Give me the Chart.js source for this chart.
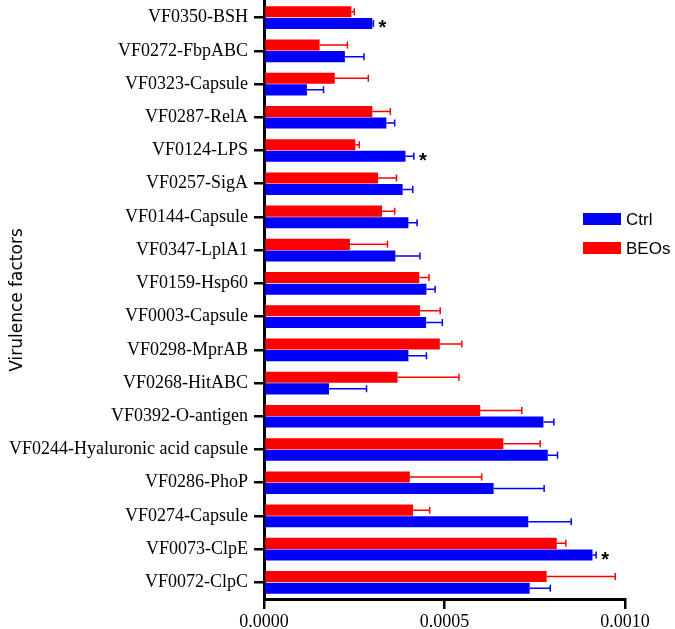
<!DOCTYPE html>
<html>
<head>
<meta charset="utf-8">
<script src="https://cdn.jsdelivr.net/npm/chart.js@4.4.1/dist/chart.umd.min.js"></script>
<style>
  html, body { margin: 0; padding: 0; background: #fff; }
  #wrap { width: 675px; height: 629px; position: relative; }
</style>
</head>
<body>
<div id="wrap"><canvas id="vf-chart"></canvas></div>
<script>
const categories = [
  'VF0350-BSH', 'VF0272-FbpABC', 'VF0323-Capsule', 'VF0287-RelA', 'VF0124-LPS',
  'VF0257-SigA', 'VF0144-Capsule', 'VF0347-LplA1', 'VF0159-Hsp60', 'VF0003-Capsule',
  'VF0298-MprAB', 'VF0268-HitABC', 'VF0392-O-antigen', 'VF0244-Hyaluronic acid capsule',
  'VF0286-PhoP', 'VF0274-Capsule', 'VF0073-ClpE', 'VF0072-ClpC'
];

const ctrlValues = [
  0.000300, 0.000224, 0.000119, 0.000339, 0.000392, 0.000384, 0.000400, 0.000364, 0.000450,
  0.000449, 0.000400, 0.000180, 0.000774, 0.000786, 0.000636, 0.000732, 0.000910, 0.000736
];
const ctrlErrors = [
  0.000003, 0.000053, 0.000046, 0.000023, 0.000023, 0.000028, 0.000024, 0.000068, 0.000024,
  0.000045, 0.000050, 0.000104, 0.000029, 0.000027, 0.000140, 0.000119, 0.000010, 0.000057
];

const beosValues = [
  0.000242, 0.000154, 0.000196, 0.000300, 0.000253, 0.000316, 0.000327, 0.000238, 0.000430,
  0.000432, 0.000487, 0.000370, 0.000599, 0.000663, 0.000404, 0.000413, 0.000811, 0.000783
];
const beosErrors = [
  0.000008, 0.000077, 0.000093, 0.000050, 0.000011, 0.000051, 0.000035, 0.000104, 0.000027,
  0.000056, 0.000061, 0.000170, 0.000115, 0.000102, 0.000199, 0.000046, 0.000025, 0.000190
];

// categories where Ctrl is marked significant (*)
const significant = ['VF0350-BSH', 'VF0124-LPS', 'VF0073-ClpE'];

const xTicks = [0, 0.0005, 0.001];

const RED = '#ff0000';
const BLUE = '#0000ff';

const errorBars = {
  id: 'errorBars',
  afterDatasetsDraw(chart) {
    const ctx = chart.ctx;
    const x = chart.scales.x;
    chart.data.datasets.forEach((ds, di) => {
      const meta = chart.getDatasetMeta(di);
      meta.data.forEach((bar, i) => {
        const x0 = x.getPixelForValue(ds.data[i]);
        const x1 = x.getPixelForValue(ds.data[i] + ds.errors[i]);
        const y = bar.y;
        ctx.save();
        ctx.strokeStyle = ds.backgroundColor;
        ctx.lineWidth = 1.5;
        ctx.beginPath();
        ctx.moveTo(x0, y);
        ctx.lineTo(x1, y);
        ctx.moveTo(x1, y - 3.5);
        ctx.lineTo(x1, y + 3.5);
        ctx.stroke();
        ctx.restore();

        if (ds.label === 'Ctrl' && significant.includes(categories[i])) {
          ctx.save();
          ctx.fillStyle = '#000';
          ctx.font = 'bold 20px "Liberation Sans"';
          ctx.textAlign = 'center';
          ctx.textBaseline = 'alphabetic';
          ctx.fillText('*', Math.max(x0, x1) + 9, y + 11);
          ctx.restore();
        }
      });
    });
  }
};

const sideLegend = {
  id: 'sideLegend',
  afterDraw(chart) {
    const ctx = chart.ctx;
    const items = [['Ctrl', BLUE], ['BEOs', RED]];
    ctx.save();
    ctx.font = '17px "Liberation Sans"';
    ctx.textBaseline = 'middle';
    items.forEach((it, k) => {
      const y = 219 + k * 29;
      ctx.fillStyle = it[1];
      ctx.fillRect(583, y - 6, 38, 12);
      ctx.fillStyle = '#000';
      ctx.fillText(it[0], 626, y + 1);
    });
    ctx.restore();
  }
};

new Chart(document.getElementById('vf-chart'), {
  type: 'bar',
  data: {
    labels: categories,
    datasets: [
      { label: 'BEOs', data: beosValues, errors: beosErrors, backgroundColor: RED },
      { label: 'Ctrl', data: ctrlValues, errors: ctrlErrors, backgroundColor: BLUE }
    ]
  },
  options: {
    indexAxis: 'y',
    responsive: true,
    maintainAspectRatio: false,
    animation: false,
    devicePixelRatio: 1,
    layout: { padding: { left: 0, right: 50, top: 1, bottom: 0 } },
    categoryPercentage: 0.7,
    barPercentage: 0.95,
    plugins: {
      legend: { display: false },
      tooltip: { enabled: false }
    },
    scales: {
      x: {
        min: 0,
        max: 0.001,
        afterBuildTicks(s) { s.ticks = xTicks.map(v => ({ value: v })); },
        afterFit(s) { s.height = 30; },
        ticks: {
          color: '#000',
          padding: 2,
          font: { family: '"Liberation Serif"', size: 18 },
          callback: v => Number(v).toFixed(4)
        },
        grid: { drawOnChartArea: false, drawTicks: true, tickLength: 10, color: '#000', lineWidth: 2.5 },
        border: { color: '#000', width: 3 }
      },
      y: {
        afterFit(s) { s.width = 264; s.paddingTop = 0; s.paddingBottom = 0; },
        ticks: {
          color: '#000',
          padding: 6,
          autoSkip: false,
          font: { family: '"Liberation Serif"', size: 18 }
        },
        grid: { offset: false, drawOnChartArea: false, drawTicks: true, tickLength: 10, color: '#000', lineWidth: 2.5 },
        border: { color: '#000', width: 3 },
        title: {
          display: true,
          text: 'Virulence factors',
          color: '#000',
          padding: { top: 7, bottom: 0 },
          font: { family: '"DejaVu Sans"', size: 17 }
        }
      }
    }
  },
  plugins: [errorBars, sideLegend]
});
</script>
</body>
</html>
